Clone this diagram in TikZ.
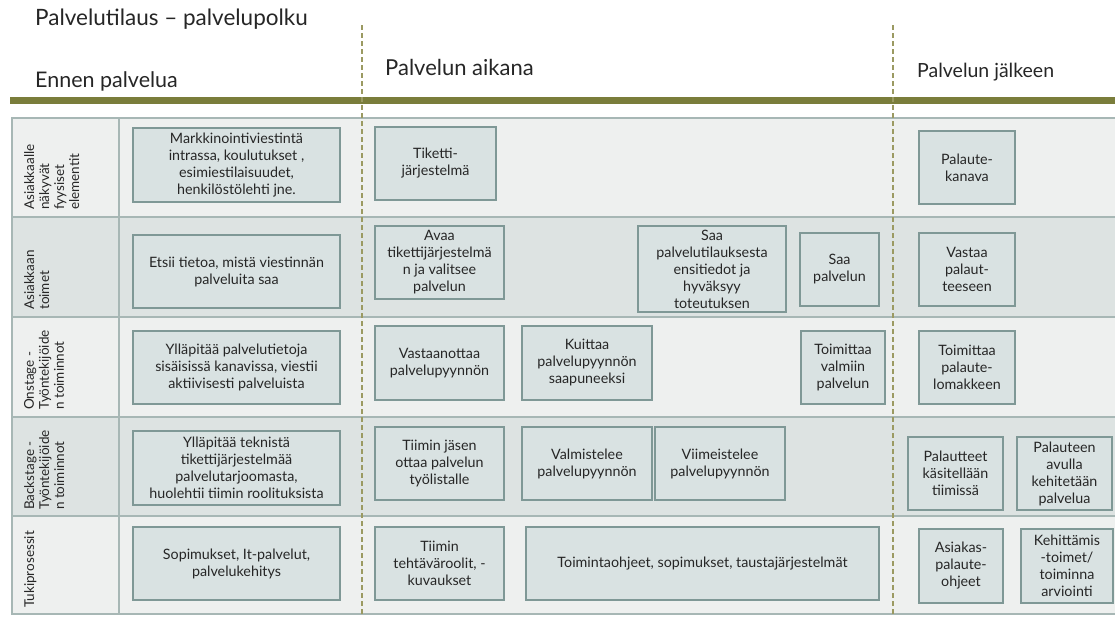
\documentclass[tikz,border=0pt]{standalone}
\usepackage{fontspec}
\setmainfont{Lato}
\definecolor{rowlight}{HTML}{EEF0EF}
\definecolor{rowdark}{HTML}{DDE3E2}
\definecolor{boxfill}{HTML}{D9E2E2}
\definecolor{boxdraw}{HTML}{7F9896}
\definecolor{tableline}{HTML}{A7B7B5}
\definecolor{barolive}{HTML}{7A7D3B}
\definecolor{dashcol}{HTML}{9B9A62}
\definecolor{txt}{HTML}{262626}
\begin{document}
\begin{tikzpicture}[x=1pt,y=-1pt,
  bx/.style={draw=boxdraw, fill=boxfill, line width=1.3pt, align=center, text=txt,
    inner sep=1pt, font=\fontsize{14.3}{17}\selectfont},
  rowlab/.style={rotate=90, anchor=north west, align=left, inner sep=0pt, text=txt,
    font=\fontsize{13.5}{15}\selectfont},
  head/.style={anchor=base west, inner sep=0pt, text=txt},
  phaseline/.style={draw=dashcol, line width=1.4pt, dash pattern=on 5pt off 3pt},
  rowrect/.style={draw=tableline, line width=1.2pt}]
\useasboundingbox (0,0) rectangle (1115,616);
\fill[white] (0,0) rectangle (1115,616);

% headings
\node[head, font=\fontsize{22.5}{26}\selectfont] (title) at (35,25) {Palvelutilaus -- palvelupolku};
\node[head, font=\fontsize{21.5}{25}\selectfont] (h1) at (35,87) {Ennen palvelua};
\node[head, font=\fontsize{22}{26}\selectfont] (h2) at (385,75) {Palvelun aikana};
\node[head, font=\fontsize{19.5}{24}\selectfont] (h3) at (917,77) {Palvelun jälkeen};

% green bar
\fill[barolive] (10,97) rectangle (1115,104);

% table rows
\path[rowrect, fill=rowlight] (12,118) rectangle (1116,217);
\path[rowrect, fill=rowdark]  (12,217) rectangle (1116,317);
\path[rowrect, fill=rowlight] (12,317) rectangle (1116,417);
\path[rowrect, fill=rowdark]  (12,417) rectangle (1116,516);
\path[rowrect, fill=rowlight] (12,516) rectangle (1116,614);
\draw[tableline, line width=1.2pt] (119,118) -- (119,614);

% phase dashed lines
\draw[phaseline] (362,25) -- (362,616);
\draw[phaseline] (893,25) -- (893,616);

% row labels
\node[rowlab] (l1) at (24,210) {Asiakkaalle\\näkyvät\\fyysiset\\elementit};
\node[rowlab] (l2) at (24,310) {Asiakkaan\\toimet};
\node[rowlab] (l3) at (24,410) {Onstage -\\Työntekijöide\\n toiminnot};
\node[rowlab] (l4) at (24,510) {Backstage -\\Työntekijöide\\n toiminnot};
\node[rowlab] (l5) at (24,608) {Tukiprosessit};

% column 1
\node[bx, minimum width=207pt, minimum height=74pt] (b11) at (236.5,165) {Markkinointiviestintä\\intrassa, koulutukset ,\\esimiestilaisuudet,\\henkilöstölehti jne.};
\node[bx, minimum width=207pt, minimum height=73pt] (b21) at (236.5,271.5) {Etsii tietoa, mistä viestinnän\\palveluita saa};
\node[bx, minimum width=207pt, minimum height=73pt] (b31) at (236.5,367.5) {Ylläpitää palvelutietoja\\sisäisissä kanavissa, viestii\\aktiivisesti palveluista};
\node[bx, minimum width=207pt, minimum height=74pt] (b41) at (236.5,468) {Ylläpitää teknistä\\tikettijärjestelmää\\palvelutarjoomasta,\\huolehtii tiimin roolituksista};
\node[bx, minimum width=207pt, minimum height=73pt] (b51) at (236.5,563.5) {Sopimukset, It-palvelut,\\palvelukehitys};

% during service
\node[bx, minimum width=121pt, minimum height=73pt] (tik) at (435.5,163.5) {Tiketti-\\järjestelmä};
\node[bx, minimum width=129pt, minimum height=73pt] (avaa) at (439.5,262.5) {Avaa\\tikettijärjestelmä\\n ja valitsee\\palvelun};
\node[bx, minimum width=148pt, minimum height=86pt, inner ysep=0pt] (saa1) at (712,269) {Saa\\palvelutilauksesta\\ensitiedot ja\\hyväksyy\\toteutuksen};
\node[bx, minimum width=79pt, minimum height=73pt] (saa2) at (839.5,269.5) {Saa\\palvelun};
\node[bx, minimum width=129pt, minimum height=74pt] (vast) at (439.5,363) {Vastaanottaa\\palvelupyynnön};
\node[bx, minimum width=130pt, minimum height=74pt] (kuit) at (587,363) {Kuittaa\\palvelupyynnön\\saapuneeksi};
\node[bx, minimum width=84pt, minimum height=73pt] (toim) at (843,367.5) {Toimittaa\\valmiin\\palvelun};
\node[bx, minimum width=129pt, minimum height=73pt] (tiim) at (439.5,463.5) {Tiimin jäsen\\ottaa palvelun\\työlistalle};
\node[bx, minimum width=130pt, minimum height=73pt] (valm) at (587,463.5) {Valmistelee\\palvelupyynnön};
\node[bx, minimum width=130pt, minimum height=73pt] (viim) at (720,463.5) {Viimeistelee\\palvelupyynnön};
\node[bx, minimum width=129pt, minimum height=73pt] (teht) at (439.5,563.5) {Tiimin\\tehtäväroolit, -\\kuvaukset};
\node[bx, minimum width=353pt, minimum height=73pt] (ohje) at (702.5,563.5) {Toimintaohjeet, sopimukset, taustajärjestelmät};

% after service
\node[bx, minimum width=96pt, minimum height=73pt] (pkan) at (967,167.5) {Palaute-\\kanava};
\node[bx, minimum width=96pt, minimum height=73pt] (vpal) at (967,269.5) {Vastaa\\palaut-\\teeseen};
\node[bx, minimum width=96pt, minimum height=73pt] (tpal) at (967,367.5) {Toimittaa\\palaute-\\lomakkeen};
\node[bx, minimum width=95pt, minimum height=73pt, inner ysep=0pt] (pkas) at (955.5,473.5) {Palautteet\\käsitellään\\tiimissä};
\node[bx, minimum width=95pt, minimum height=73pt, inner ysep=0pt] (pavu) at (1064.5,473.5) {Palauteen\\avulla\\kehitetään\\palvelua};
\node[bx, minimum width=84pt, minimum height=74pt, inner ysep=0pt] (asia) at (961,566) {Asiakas-\\palaute-\\ohjeet};
\node[bx, minimum width=92pt, minimum height=74pt, inner ysep=0pt] (kehi) at (1067,566) {Kehittämis\\-toimet/\\toiminna\\arviointi};
\end{tikzpicture}
\end{document}
